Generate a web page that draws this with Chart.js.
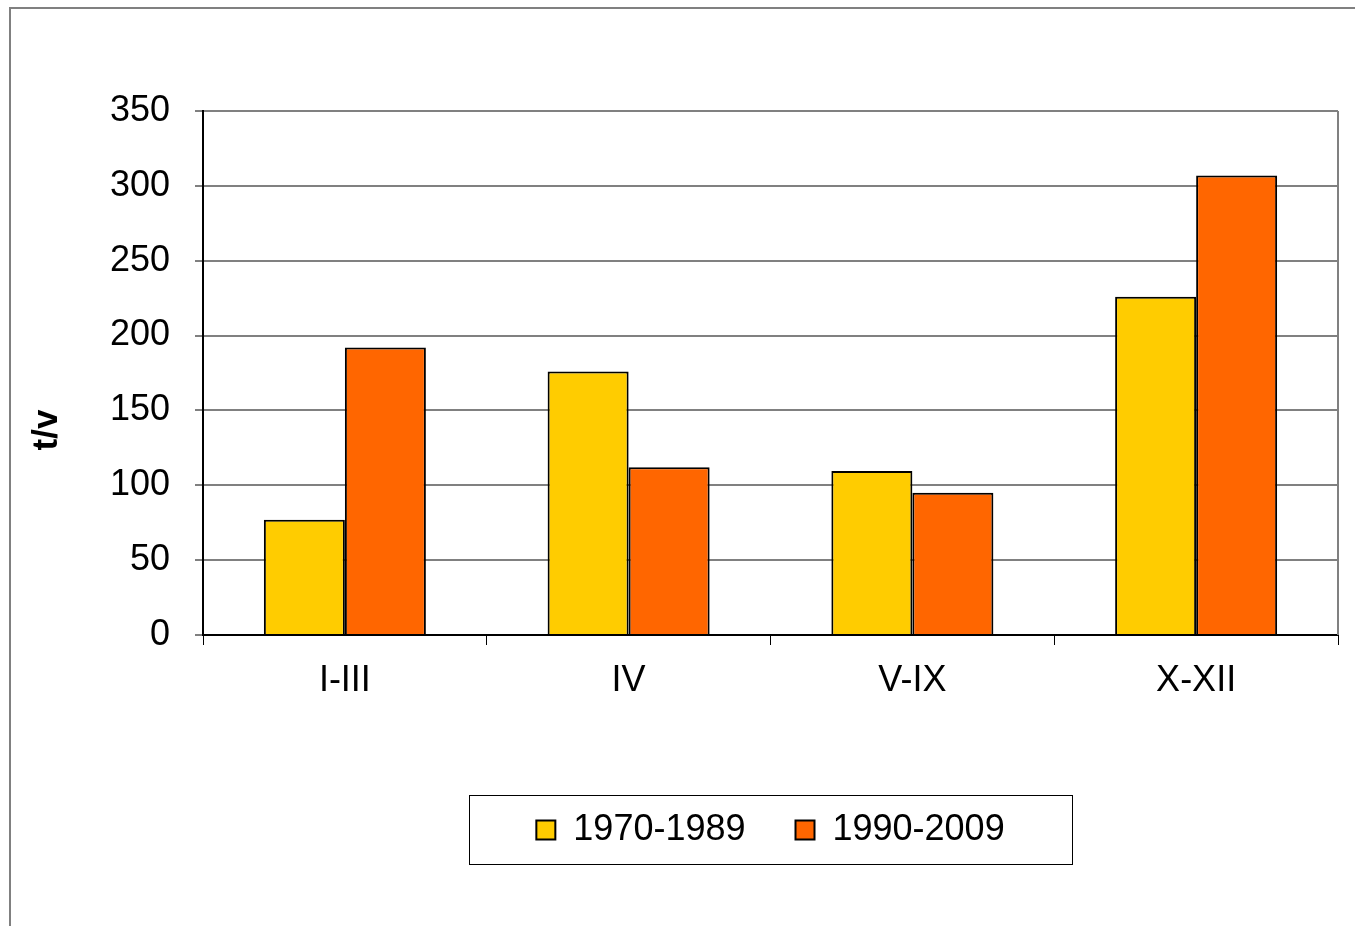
<!DOCTYPE html>
<html>
<head>
<meta charset="utf-8">
<script src="https://cdn.jsdelivr.net/npm/chart.js@4"></script>
<style>
html,body{margin:0;padding:0;background:#fff;}
#wrap{position:relative;width:1355px;height:926px;}
</style>
</head>
<body>
<div id="wrap"><canvas id="c" width="1355" height="926"></canvas></div>
<script>
const categories = ['I-III', 'IV', 'V-IX', 'X-XII'];
const series1970 = [77, 176, 109.5, 226];
const series1990 = [192, 112, 95, 307];
const seriesNames = ['1970-1989', '1990-2009'];
const yTicks = [0, 50, 100, 150, 200, 250, 300, 350];
const yTitle = 't/v';

const FONT = 'Liberation Sans, Arial, Helvetica, sans-serif';
const LEGEND_PAD = 50;
const LEGEND_FONT = 36;

const framePlugin = {
  id: 'frame',
  afterLayout(chart) {
    const lg = chart.legend;
    if (lg) {
      const ca = chart.chartArea;
      lg.left = ca.left;
      lg.right = ca.right;
      lg.width = ca.right - ca.left;
      if (lg.adjustHitBoxes) lg.adjustHitBoxes();
    }
  },
  beforeDraw(chart) {
    const ctx = chart.ctx;
    ctx.save();
    ctx.strokeStyle = '#808080';
    ctx.lineWidth = 2;
    ctx.beginPath();
    ctx.moveTo(10, 926);
    ctx.lineTo(10, 8);
    ctx.lineTo(1355, 8);
    ctx.stroke();
    ctx.restore();
  },
  afterDraw(chart) {
    const ctx = chart.ctx;
    const ca = chart.chartArea;
    ctx.save();
    // right border of plot area
    ctx.strokeStyle = '#808080';
    ctx.lineWidth = 2;
    ctx.beginPath();
    ctx.moveTo(ca.right, ca.top);
    ctx.lineTo(ca.right, ca.bottom);
    ctx.stroke();
    // legend frame
    const lg = chart.legend;
    if (lg) {
      const cy = lg.top + LEGEND_PAD + LEGEND_FONT / 2;
      const cx = (ca.left + ca.right) / 2;
      const w = 603, h = 69;
      ctx.strokeStyle = '#000';
      ctx.lineWidth = 1;
      ctx.strokeRect(Math.round(cx - w / 2) + 0.5, Math.round(cy - 35) + 0.5, w, h);
    }
    // y axis title (placed like the original, below the plot centre)
    ctx.translate(47, 430);
    ctx.rotate(-Math.PI / 2);
    ctx.fillStyle = '#000';
    ctx.font = 'bold 35px ' + FONT;
    ctx.textAlign = 'center';
    ctx.textBaseline = 'middle';
    ctx.fillText(yTitle, 0, 0);
    ctx.restore();
  }
};

new Chart(document.getElementById('c'), {
  type: 'bar',
  data: {
    labels: categories,
    datasets: [
      {
        label: seriesNames[0],
        data: series1970,
        backgroundColor: '#FFCC00',
        borderColor: '#000000',
        borderWidth: 2,
        categoryPercentage: 0.571,
        barPercentage: 1.0
      },
      {
        label: seriesNames[1],
        data: series1990,
        backgroundColor: '#FF6600',
        borderColor: '#000000',
        borderWidth: 2,
        categoryPercentage: 0.571,
        barPercentage: 1.0
      }
    ]
  },
  options: {
    responsive: false,
    animation: false,
    devicePixelRatio: 1,
    layout: { padding: { top: 111, right: 17, bottom: 68, left: 0 } },
    plugins: {
      tooltip: { enabled: false },
      legend: {
        display: true,
        position: 'bottom',
        labels: {
          boxWidth: 19,
          boxHeight: 19,
          padding: LEGEND_PAD,
          color: '#000',
          font: { family: FONT, size: LEGEND_FONT }
        }
      }
    },
    scales: {
      x: {
        grid: {
          display: true,
          drawOnChartArea: false,
          offset: true,
          tickLength: 10,
          tickColor: '#000',
          tickWidth: 1
        },
        border: { display: true, color: '#000', width: 2 },
        ticks: {
          color: '#000',
          padding: 14,
          font: { family: FONT, size: 36 },
          maxRotation: 0
        },
        afterFit(scale) { scale.height = 127; }
      },
      y: {
        min: 0,
        max: 350,
        afterBuildTicks(scale) { scale.ticks = yTicks.map(v => ({ value: v })); },
        grid: {
          color: '#808080',
          lineWidth: 2,
          tickLength: 8,
          tickColor: '#000',
          tickWidth: 1
        },
        border: { display: true, color: '#000', width: 2 },
        ticks: {
          color: '#000',
          padding: 25,
          font: { family: FONT, size: 36 }
        },
        title: { display: false },
        afterFit(scale) { scale.width = 203; }
      }
    }
  },
  plugins: [framePlugin]
});
</script>
</body>
</html>
